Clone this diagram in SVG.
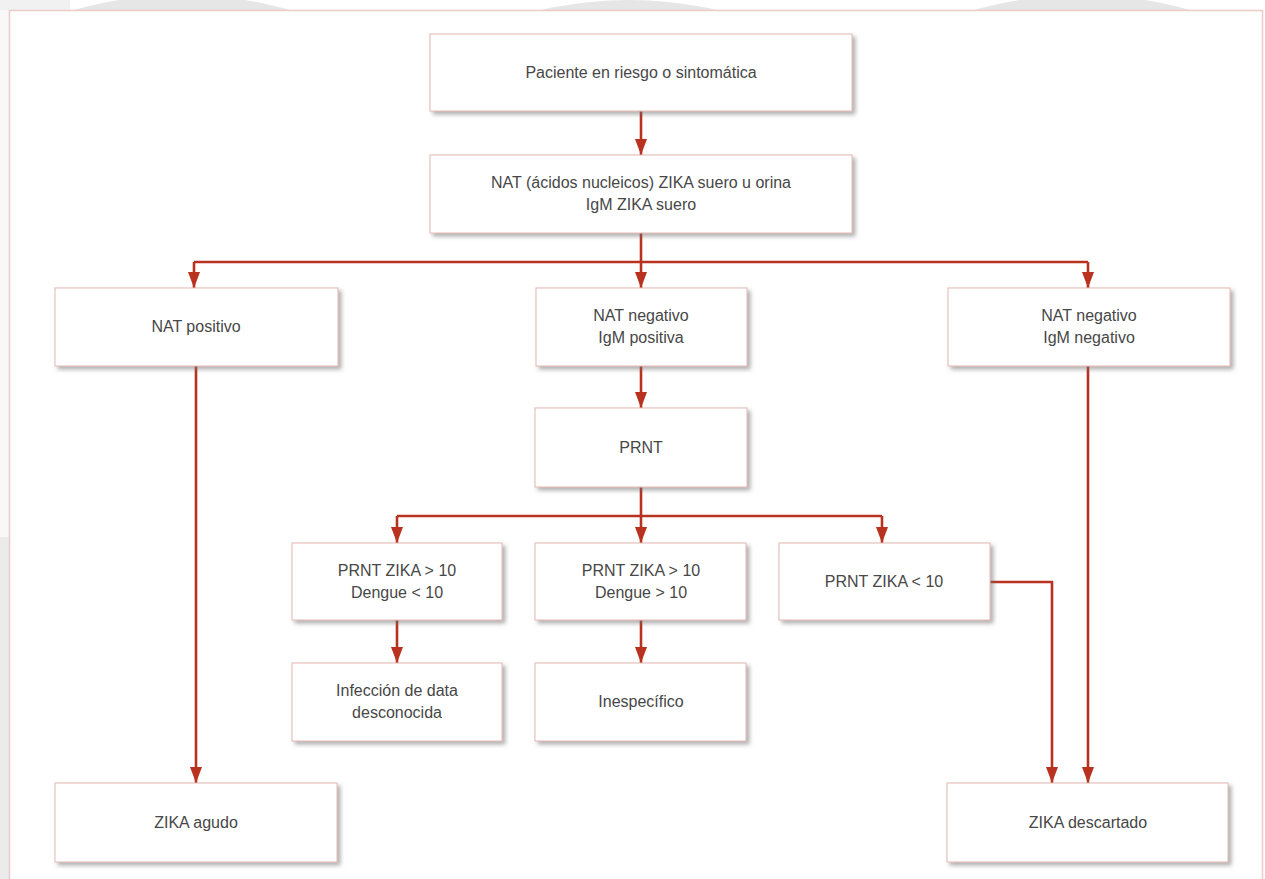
<svg xmlns="http://www.w3.org/2000/svg" width="1265" height="879" viewBox="0 0 1265 879">
  <defs>
    <filter id="sh" x="-5%" y="-10%" width="115%" height="130%">
      <feDropShadow dx="3" dy="3" stdDeviation="2" flood-color="#6e6e6e" flood-opacity="0.55"/>
    </filter>
    <marker id="ah" viewBox="0 0 16 12" refX="16" refY="6" markerWidth="16" markerHeight="12" markerUnits="userSpaceOnUse" orient="auto">
      <path d="M0,0 L16,6 L0,12 Z" fill="#b8321f"/>
    </marker>
    <clipPath id="topband"><rect x="0" y="0" width="1265" height="10"/></clipPath>
  </defs>
  <style>
    .box { fill: #ffffff; stroke: #e3b8b3; stroke-width: 1; filter: url(#sh); }
    .t { font-family: "Liberation Sans", Arial, sans-serif; font-size: 16px; fill: #474747; text-anchor: middle; }
    .c { fill: none; stroke: #b8321f; stroke-width: 2.6; }
    .ca { fill: none; stroke: #b8321f; stroke-width: 2.6; }
  </style>

  <!-- background / watermark -->
  <g id="background">
    <rect x="0" y="0" width="1265" height="879" fill="#ffffff"/>
    <g clip-path="url(#topband)">
      <rect x="0" y="0" width="70" height="10" fill="#f1f1f1"/>
      <circle cx="182" cy="395" r="400" fill="#e6e6e6"/>
      <circle cx="629" cy="395" r="395" fill="#e6e6e6"/>
      <circle cx="1082" cy="395" r="400" fill="#e6e6e6"/>
    </g>
    <rect x="0" y="10" width="10" height="527" fill="#f8f8f8"/>
    <rect x="0" y="537" width="10" height="342" fill="#ebebeb"/>
    <rect x="9.5" y="10.5" width="1253" height="900" fill="#ffffff" stroke="#ecccc9" stroke-width="1.5"/>
  </g>

  <!-- connectors -->
  <g id="connectors">
    <path class="ca" d="M641,111 V155" marker-end="url(#ah)"/>
    <path class="c" d="M641,233 V262"/>
    <path class="c" d="M194,262 H1088"/>
    <path class="ca" d="M194,262 V288" marker-end="url(#ah)"/>
    <path class="ca" d="M641,262 V288" marker-end="url(#ah)"/>
    <path class="ca" d="M1088,262 V288" marker-end="url(#ah)"/>
    <path class="ca" d="M196,366 V783" marker-end="url(#ah)"/>
    <path class="ca" d="M641,366 V408" marker-end="url(#ah)"/>
    <path class="c" d="M641,487 V516"/>
    <path class="c" d="M397,516 H882"/>
    <path class="ca" d="M397,516 V543" marker-end="url(#ah)"/>
    <path class="ca" d="M641,516 V543" marker-end="url(#ah)"/>
    <path class="ca" d="M882,516 V543" marker-end="url(#ah)"/>
    <path class="ca" d="M397,620 V663" marker-end="url(#ah)"/>
    <path class="ca" d="M641,620 V663" marker-end="url(#ah)"/>
    <path class="ca" d="M990,582 H1052 V783" marker-end="url(#ah)"/>
    <path class="ca" d="M1088,366 V783" marker-end="url(#ah)"/>
  </g>

  <g id="n1">
    <rect class="box" x="430" y="34" width="422" height="77"/>
    <text class="t" x="641" y="78">Paciente en riesgo o sintomática</text>
  </g>
  <g id="n2">
    <rect class="box" x="430" y="155" width="422" height="78"/>
    <text class="t" x="641" y="188">NAT (ácidos nucleicos) ZIKA suero u orina</text>
    <text class="t" x="641" y="210">IgM ZIKA suero</text>
  </g>
  <g id="n3">
    <rect class="box" x="55" y="288" width="283" height="78"/>
    <text class="t" x="196" y="332">NAT positivo</text>
  </g>
  <g id="n4">
    <rect class="box" x="536" y="288" width="211" height="78"/>
    <text class="t" x="641" y="321">NAT negativo</text>
    <text class="t" x="641" y="343">IgM positiva</text>
  </g>
  <g id="n5">
    <rect class="box" x="948" y="288" width="282" height="78"/>
    <text class="t" x="1089" y="321">NAT negativo</text>
    <text class="t" x="1089" y="343">IgM negativo</text>
  </g>
  <g id="n6">
    <rect class="box" x="535" y="408" width="212" height="79"/>
    <text class="t" x="641" y="453">PRNT</text>
  </g>
  <g id="n7">
    <rect class="box" x="292" y="543" width="210" height="77"/>
    <text class="t" x="397" y="576">PRNT ZIKA &gt; 10</text>
    <text class="t" x="397" y="598">Dengue &lt; 10</text>
  </g>
  <g id="n8">
    <rect class="box" x="535" y="543" width="211" height="77"/>
    <text class="t" x="641" y="576">PRNT ZIKA &gt; 10</text>
    <text class="t" x="641" y="598">Dengue &gt; 10</text>
  </g>
  <g id="n9">
    <rect class="box" x="779" y="543" width="211" height="77"/>
    <text class="t" x="884" y="587">PRNT ZIKA &lt; 10</text>
  </g>
  <g id="n10">
    <rect class="box" x="292" y="663" width="210" height="78"/>
    <text class="t" x="397" y="696">Infección de data</text>
    <text class="t" x="397" y="718">desconocida</text>
  </g>
  <g id="n11">
    <rect class="box" x="535" y="663" width="211" height="78"/>
    <text class="t" x="641" y="707">Inespecífico</text>
  </g>
  <g id="n12">
    <rect class="box" x="55" y="783" width="282" height="79"/>
    <text class="t" x="196" y="828">ZIKA agudo</text>
  </g>
  <g id="n13">
    <rect class="box" x="947" y="783" width="281" height="79"/>
    <text class="t" x="1088" y="828">ZIKA descartado</text>
  </g>
</svg>
